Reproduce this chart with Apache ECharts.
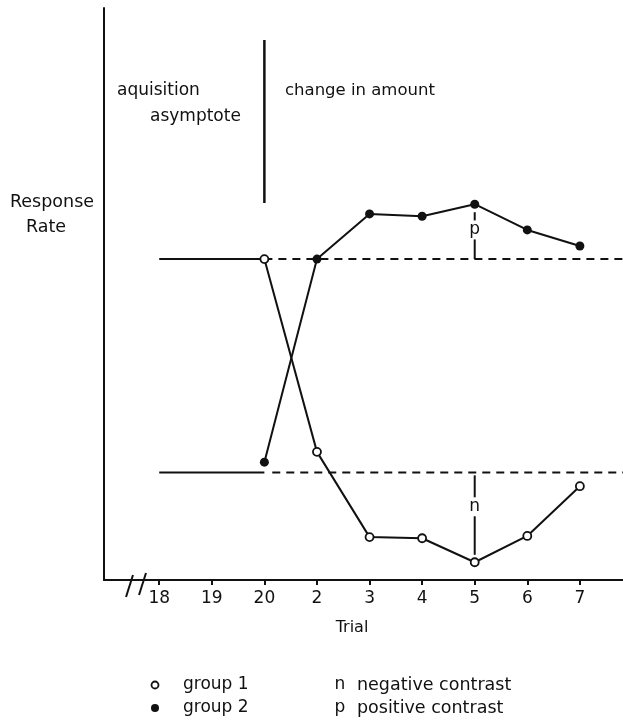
<!DOCTYPE html>
<html>
<head>
<meta charset="utf-8">
<script src="https://cdn.jsdelivr.net/npm/echarts@6/dist/echarts.min.js"></script>
<style>
html,body{margin:0;padding:0;background:#fff;}
#chart{width:623px;height:721px;}
</style>
</head>
<body>
<div id="chart"></div>
<script>
// ---- data ----
const trialLabels = ['18', '19', '20', '2', '3', '4', '5', '6', '7'];
// response rate (arbitrary units 0-100), null = no point plotted
const group1 = [null, null, 56.1, 22.4, 7.5, 7.3, 3.1, 7.7, 16.4];
const group2 = [null, null, 20.6, 56.1, 64.0, 63.6, 65.7, 61.2, 58.4];
const upperAsymptote = 56.1;
const lowerAsymptote = 18.8;
const phaseBoundaryIndex = 2;          // trial "20"
const phaseLineRange = [94.4, 65.9];   // vertical divider extent
const contrastIndex = 6;               // trial "5"
const positiveContrast = { from: 64.3, to: 56.1, labelAt: 61.2, text: 'p' };
const negativeContrast = { from: 18.3, to: 4.4, labelAt: 12.8, text: 'n' };
const xMin = -1.05, xMax = 8.82;

// ---- build ----
const FONT = 'DejaVu Sans';
const toPairs = arr => arr.map((v, i) => v == null ? null : [i, v]).filter(Boolean);
const black = '#111';

const chart = echarts.init(document.getElementById('chart'), null, { renderer: 'canvas' });

const idxs = trialLabels.map((_, i) => i);

const option = {
  animation: false,
  backgroundColor: '#fff',
  grid: { left: 104, right: 0, top: 8, bottom: 141 },
  xAxis: {
    type: 'value', min: xMin, max: xMax,
    splitLine: { show: false },
    axisLine: { show: true, onZero: false, lineStyle: { color: black, width: 2 } },
    axisTick: { show: true, customValues: idxs, length: 5, lineStyle: { color: black, width: 2 } },
    axisLabel: {
      show: true, customValues: idxs, margin: 10,
      formatter: v => trialLabels[Math.round(v)] ?? '',
      fontFamily: FONT, fontSize: 17, color: black
    }
  },
  yAxis: {
    type: 'value', min: 0, max: 100,
    splitLine: { show: false },
    axisLine: { show: true, onZero: false, lineStyle: { color: black, width: 2 } },
    axisTick: { show: false },
    axisLabel: { show: false }
  },
  series: [
    { type: 'line', data: [[0, upperAsymptote], [phaseBoundaryIndex, upperAsymptote]], symbol: 'none',
      lineStyle: { color: black, width: 2 }, z: 1 },
    { type: 'line', data: [[0, lowerAsymptote], [phaseBoundaryIndex, lowerAsymptote]], symbol: 'none',
      lineStyle: { color: black, width: 2 }, z: 1 },
    { type: 'line', data: [[phaseBoundaryIndex, upperAsymptote], [xMax, upperAsymptote]], symbol: 'none',
      lineStyle: { color: black, width: 2, type: [8, 6] }, z: 1 },
    { type: 'line', data: [[phaseBoundaryIndex + 0.15, lowerAsymptote], [xMax, lowerAsymptote]], symbol: 'none',
      lineStyle: { color: black, width: 2, type: [8, 6] }, z: 1 },
    { type: 'line', data: [[phaseBoundaryIndex, phaseLineRange[0]], [phaseBoundaryIndex, phaseLineRange[1]]],
      symbol: 'none', lineStyle: { color: black, width: 2.5 }, z: 1 },
    { type: 'line', data: [[contrastIndex, positiveContrast.from], [contrastIndex, positiveContrast.to]],
      symbol: 'none', lineStyle: { color: black, width: 2 }, z: 1 },
    { type: 'line', data: [[contrastIndex, negativeContrast.from], [contrastIndex, negativeContrast.to]],
      symbol: 'none', lineStyle: { color: black, width: 2 }, z: 1 },
    { type: 'scatter', symbolSize: 0, z: 3, itemStyle: { opacity: 1 },
      data: [[contrastIndex, positiveContrast.labelAt, positiveContrast.text],
             [contrastIndex, negativeContrast.labelAt, negativeContrast.text]],
      label: { show: true, position: 'inside', formatter: p => p.value[2],
               fontFamily: FONT, fontSize: 17, color: black,
               backgroundColor: '#fff', padding: [1, 2] } },
    { name: 'group 1', type: 'line', data: toPairs(group1), symbol: 'circle', symbolSize: 8,
      itemStyle: { color: '#fff', borderColor: black, borderWidth: 1.8 },
      lineStyle: { color: black, width: 2 }, z: 4 },
    { name: 'group 2', type: 'line', data: toPairs(group2), symbol: 'circle', symbolSize: 9,
      itemStyle: { color: black, borderColor: black, borderWidth: 0 },
      lineStyle: { color: black, width: 2 }, z: 4 }
  ],
  graphic: [
    // axis break
    { type: 'line', shape: { x1: 126, y1: 597, x2: 133, y2: 575 }, style: { stroke: black, lineWidth: 2 } },
    { type: 'line', shape: { x1: 139, y1: 595, x2: 146, y2: 573 }, style: { stroke: black, lineWidth: 2 } },
    // annotations
    { type: 'text', x: 117, y: 91, style: { text: 'aquisition', font: `17px "${FONT}"`, fill: black, verticalAlign: 'middle' } },
    { type: 'text', x: 150, y: 117, style: { text: 'asymptote', font: `17px "${FONT}"`, fill: black, verticalAlign: 'middle' } },
    { type: 'text', x: 285, y: 91, style: { text: 'change in amount', font: `16.5px "${FONT}"`, fill: black, verticalAlign: 'middle' } },
    { type: 'text', x: 52, y: 202, style: { text: 'Response', font: `17.5px "${FONT}"`, fill: black, align: 'center', verticalAlign: 'middle' } },
    { type: 'text', x: 46, y: 227, style: { text: 'Rate', font: `17.5px "${FONT}"`, fill: black, align: 'center', verticalAlign: 'middle' } },
    { type: 'text', x: 352, y: 628, style: { text: 'Trial', font: `16px "${FONT}"`, fill: black, align: 'center', verticalAlign: 'middle' } },
    // key
    { type: 'circle', shape: { cx: 155, cy: 685, r: 3.5 }, style: { fill: '#fff', stroke: black, lineWidth: 1.8 } },
    { type: 'text', x: 183, y: 685, style: { text: 'group 1', font: `17px "${FONT}"`, fill: black, verticalAlign: 'middle' } },
    { type: 'circle', shape: { cx: 155, cy: 708, r: 4 }, style: { fill: black } },
    { type: 'text', x: 183, y: 708, style: { text: 'group 2', font: `17px "${FONT}"`, fill: black, verticalAlign: 'middle' } },
    { type: 'text', x: 340, y: 685, style: { text: 'n', font: `17px "${FONT}"`, fill: black, align: 'center', verticalAlign: 'middle' } },
    { type: 'text', x: 357, y: 685, style: { text: 'negative contrast', font: `17.5px "${FONT}"`, fill: black, verticalAlign: 'middle' } },
    { type: 'text', x: 340, y: 708, style: { text: 'p', font: `17px "${FONT}"`, fill: black, align: 'center', verticalAlign: 'middle' } },
    { type: 'text', x: 357, y: 708, style: { text: 'positive contrast', font: `17.5px "${FONT}"`, fill: black, verticalAlign: 'middle' } }
  ]
};
chart.setOption(option);
</script>
</body>
</html>
